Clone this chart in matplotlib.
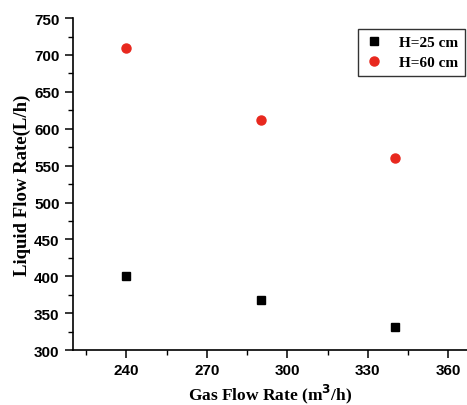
import matplotlib
matplotlib.use("Agg")
import matplotlib.pyplot as plt
from matplotlib.ticker import MultipleLocator

# data
gas_flow = [240, 290, 340]
liquid_h25 = [401, 368, 331]
liquid_h60 = [709, 612, 561]
x_ticks = [240, 270, 300, 330, 360]
y_ticks = [300, 350, 400, 450, 500, 550, 600, 650, 700, 750]

fig = plt.figure(figsize=(4.67, 4.06), dpi=100)
ax = fig.add_axes([0.156, 0.135, 0.844, 0.818])

ax.plot(gas_flow, liquid_h25, "s", color="black", markersize=6, label="H=25 cm")
ax.plot(gas_flow, liquid_h60, "o", color="#e8281e", markersize=6.5, label="H=60 cm")

ax.set_xlim(220, 367)
ax.set_ylim(300, 750)
ax.set_xticks(x_ticks)
ax.set_yticks(y_ticks)
ax.xaxis.set_minor_locator(MultipleLocator(15))
ax.yaxis.set_minor_locator(MultipleLocator(25))

ax.spines["top"].set_visible(False)
ax.spines["right"].set_visible(False)
for s in ("left", "bottom"):
    ax.spines[s].set_linewidth(1.2)

ax.tick_params(which="major", direction="out", length=6, width=1.1, labelsize=11)
ax.tick_params(which="minor", direction="out", length=3.5, width=1.0)
for lab in ax.get_xticklabels() + ax.get_yticklabels():
    lab.set_fontfamily("Liberation Sans")
    lab.set_fontweight("bold")

ax.set_xlabel("Gas Flow Rate (m$^\\mathbf{3}$/h)", fontsize=12.5, fontweight="bold",
              fontfamily="Liberation Serif", labelpad=3)
ax.set_ylabel("Liquid Flow Rate(L/h)", fontsize=13.5, fontweight="bold",
              fontfamily="Liberation Serif", labelpad=2)

leg = ax.legend(loc="upper right", bbox_to_anchor=(1.0, 0.975), borderaxespad=0.15,
                frameon=True, fancybox=False, edgecolor="black", handlelength=1.2,
                handletextpad=1.0, borderpad=0.45, labelspacing=0.4,
                prop={"family": "Liberation Serif", "weight": "bold", "size": 11})
leg.get_frame().set_linewidth(1.0)

fig.savefig("out.png", dpi=100)
